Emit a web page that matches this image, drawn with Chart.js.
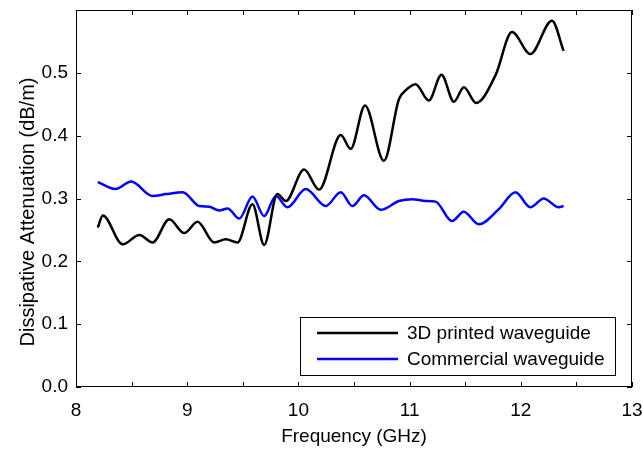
<!DOCTYPE html>
<html>
<head>
<meta charset="utf-8">
<script src="https://cdn.jsdelivr.net/npm/chart.js@4"></script>
<style>
  html, body { margin: 0; padding: 0; background: #fff; }
  #wrap { width: 642px; height: 449px; }
</style>
</head>
<body>
<div id="wrap"><canvas id="chart" width="642" height="449"></canvas></div>
<script>
// 3D printed waveguide (black)
const printedFreq = [8.196, 8.241, 8.42, 8.57, 8.689, 8.839, 8.973, 9.093, 9.243, 9.348, 9.452, 9.587, 9.692, 9.811, 9.887, 10.051, 10.186, 10.381, 10.47, 10.599, 10.769, 10.904, 10.964, 11.054, 11.173, 11.287, 11.398, 11.488, 11.598, 11.772, 11.921, 12.086, 12.28, 12.385];
const printedAtt = [0.254, 0.273, 0.227, 0.242, 0.230, 0.267, 0.245, 0.263, 0.230, 0.235, 0.230, 0.291, 0.226, 0.307, 0.296, 0.346, 0.314, 0.401, 0.379, 0.448, 0.360, 0.458, 0.472, 0.482, 0.456, 0.497, 0.454, 0.477, 0.452, 0.496, 0.565, 0.530, 0.583, 0.535];

// Commercial waveguide (blue)
const commFreq = [8.196, 8.355, 8.496, 8.689, 8.81, 8.959, 9.109, 9.198, 9.288, 9.363, 9.468, 9.587, 9.692, 9.797, 9.901, 10.066, 10.246, 10.381, 10.485, 10.59, 10.74, 10.904, 11.023, 11.144, 11.233, 11.382, 11.487, 11.622, 11.802, 11.952, 12.086, 12.206, 12.34, 12.385];
const commAtt = [0.326, 0.315, 0.327, 0.304, 0.307, 0.310, 0.288, 0.287, 0.281, 0.284, 0.268, 0.303, 0.272, 0.304, 0.286, 0.315, 0.288, 0.310, 0.288, 0.305, 0.282, 0.296, 0.299, 0.296, 0.295, 0.264, 0.279, 0.259, 0.283, 0.310, 0.286, 0.300, 0.286, 0.288];

const xTicks = [8, 9, 10, 11, 12, 13];
const yTicks = [0.0, 0.1, 0.2, 0.3, 0.4, 0.5];

const seriesNames = ["3D printed waveguide", "Commercial waveguide"];
const seriesColors = ["#000000", "#0000ff"];

const FONT = "'Liberation Sans', Arial, sans-serif";

const toPoints = (xs, ys) => xs.map((x, i) => ({ x, y: ys[i] }));

// box, inward ticks, legend and axis titles, matlab style
const framePlugin = {
  id: "frame",
  afterDraw(chart) {
    const { ctx, chartArea: a, scales } = chart;
    const xs = scales.x, ys = scales.y;
    const tl = 5;
    ctx.save();
    ctx.strokeStyle = "#000";
    ctx.lineWidth = 1;
    ctx.strokeRect(a.left + 0.5, a.top + 0.5, a.right - a.left - 1, a.bottom - a.top - 1);

    ctx.beginPath();
    xs.ticks.forEach((t) => {
      const px = Math.round(xs.getPixelForValue(t.value)) + 0.5;
      ctx.moveTo(px, a.bottom);
      ctx.lineTo(px, a.bottom - tl);
      ctx.moveTo(px, a.top);
      ctx.lineTo(px, a.top + tl);
    });
    ys.ticks.forEach((t) => {
      const py = Math.round(ys.getPixelForValue(t.value)) + 0.5;
      ctx.moveTo(a.left, py);
      ctx.lineTo(a.left + tl, py);
      ctx.moveTo(a.right, py);
      ctx.lineTo(a.right - tl, py);
    });
    ctx.stroke();

    // legend
    const lx = 300, ly = 317, lw = 315, lh = 58;
    ctx.fillStyle = "#fff";
    ctx.fillRect(lx, ly, lw, lh);
    ctx.strokeRect(lx + 0.5, ly + 0.5, lw, lh);
    ctx.font = "19px " + FONT;
    ctx.textBaseline = "middle";
    ctx.textAlign = "left";
    seriesNames.forEach((name, i) => {
      const y = ly + 16 + i * 26;
      ctx.strokeStyle = seriesColors[i];
      ctx.lineWidth = 2.5;
      ctx.beginPath();
      ctx.moveTo(317, y);
      ctx.lineTo(398, y);
      ctx.stroke();
      ctx.fillStyle = "#000";
      ctx.fillText(name, 407, y + 1);
    });

    // axis titles
    ctx.fillStyle = "#000";
    ctx.textAlign = "center";
    ctx.fillText("Frequency (GHz)", (a.left + a.right) / 2, 437);
    ctx.translate(28, 212);
    ctx.rotate(-Math.PI / 2);
    ctx.font = "20px " + FONT;
    ctx.fillText("Dissipative Attenuation (dB/m)", 0, 0);
    ctx.restore();
  }
};

new Chart(document.getElementById("chart"), {
  type: "line",
  data: {
    datasets: [
      {
        label: seriesNames[0],
        data: toPoints(printedFreq, printedAtt),
        borderColor: seriesColors[0],
        borderWidth: 2.5,
        pointRadius: 0,
        cubicInterpolationMode: "monotone"
      },
      {
        label: seriesNames[1],
        data: toPoints(commFreq, commAtt),
        borderColor: seriesColors[1],
        borderWidth: 2.5,
        pointRadius: 0,
        cubicInterpolationMode: "monotone"
      }
    ]
  },
  options: {
    responsive: false,
    animation: false,
    layout: { padding: { top: 10, right: 10, left: 0, bottom: 0 } },
    plugins: { legend: { display: false }, tooltip: { enabled: false } },
    scales: {
      x: {
        type: "linear",
        min: 8,
        max: 13,
        grid: { display: false, drawTicks: false },
        border: { display: false },
        afterFit: (s) => {
          s.height = 62;
          s.paddingLeft = 0;
          s.paddingRight = 0;
        },
        ticks: {
          stepSize: 0.5,
          padding: 12,
          color: "#000",
          font: { family: FONT, size: 19 },
          maxRotation: 0,
          autoSkip: false,
          callback: (v) => (xTicks.includes(v) ? String(v) : "")
        }
      },
      y: {
        min: 0,
        max: 0.6,
        grid: { display: false, drawTicks: false },
        border: { display: false },
        afterFit: (s) => {
          s.width = 76;
          s.paddingTop = 0;
          s.paddingBottom = 0;
        },
        ticks: {
          stepSize: 0.1,
          padding: 8,
          color: "#000",
          font: { family: FONT, size: 19 },
          callback: (v) => {
            const hit = yTicks.find((t) => Math.abs(t - v) < 1e-6);
            return hit === undefined ? "" : hit.toFixed(1);
          }
        }
      }
    }
  },
  plugins: [framePlugin]
});
</script>
</body>
</html>
